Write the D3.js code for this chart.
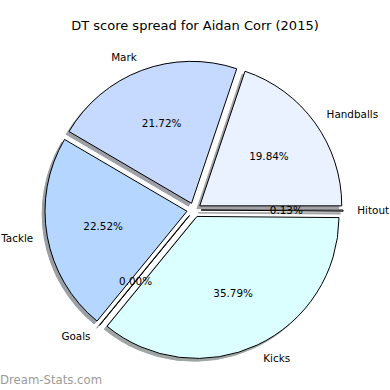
<!DOCTYPE html>
<html>
<head>
<meta charset="utf-8">
<script src="https://cdn.jsdelivr.net/npm/d3@7"></script>
<style>
  html, body { margin: 0; padding: 0; background: #fff; }
  svg { display: block; }
  text { font-family: "DejaVu Sans", sans-serif; }
</style>
</head>
<body>
<svg id="chart" width="390" height="390"></svg>
<script>
const title = "DT score spread for Aidan Corr (2015)";
const categories = ["Handballs", "Mark", "Tackle", "Goals", "Kicks", "Hitout"];
const values = [19.84, 21.72, 22.52, 0.00, 35.79, 0.13];
const colors = ["#eaf1ff", "#c6d9ff", "#b5d7ff", "#b5d7ff", "#dbffff", "#eaf1ff"];
const watermark = "Dream-Stats.com";

const W = 390, H = 390;
const cx = 194, cy = 210, R = 142;
const explode = 0.05, labelDist = 1.1, pctDist = 0.6, shadowOff = 0.02;

const svg = d3.select("#chart");
const data = categories.map((c, i) => ({ label: c, value: values[i], color: colors[i] }));

// counter-clockwise from 3 o'clock (matplotlib default)
const pie = d3.pie().sort(null).value(d => d.value)
  .startAngle(Math.PI / 2).endAngle(Math.PI / 2 - 2 * Math.PI);
const arcs = pie(data);
const arc = d3.arc().innerRadius(0).outerRadius(R);

arcs.forEach(a => {
  a.mid = (a.startAngle + a.endAngle) / 2;
  a.ux = Math.sin(a.mid);
  a.uy = -Math.cos(a.mid);
  a.ox = cx + explode * R * a.ux;
  a.oy = cy + explode * R * a.uy;
});

function darken(c) {
  const r = d3.rgb(c);
  return d3.rgb(r.r * 0.3, r.g * 0.3, r.b * 0.3).toString();
}

// shadows
svg.append("g").selectAll("path").data(arcs).join("path")
  .attr("transform", d => `translate(${d.ox - shadowOff * R},${d.oy + shadowOff * R})`)
  .attr("d", arc)
  .attr("fill", d => darken(d.data.color))
  .attr("stroke", d => darken(d.data.color))
  .attr("stroke-width", 1)
  .attr("opacity", 0.5);

// wedges
svg.append("g").selectAll("path").data(arcs).join("path")
  .attr("transform", d => `translate(${d.ox},${d.oy})`)
  .attr("d", arc)
  .attr("fill", d => d.data.color)
  .attr("stroke", "#000")
  .attr("stroke-width", 1)
  .attr("stroke-linejoin", "round");

// labels
svg.append("g").selectAll("text").data(arcs).join("text")
  .attr("x", d => d.ox + labelDist * R * d.ux)
  .attr("y", d => d.oy + labelDist * R * d.uy)
  .attr("dy", "0.35em")
  .attr("text-anchor", d => (d.ux < 0 ? "end" : "start"))
  .attr("font-size", "10.4px")
  .attr("fill", "#000")
  .text(d => d.data.label);

// percentages
svg.append("g").selectAll("text").data(arcs).join("text")
  .attr("x", d => d.ox + pctDist * R * d.ux)
  .attr("y", d => d.oy + pctDist * R * d.uy)
  .attr("dy", "0.35em")
  .attr("text-anchor", "middle")
  .attr("font-size", "10.4px")
  .attr("fill", "#000")
  .text(d => d.data.value.toFixed(2) + "%");

// title
svg.append("text")
  .attr("x", W / 2).attr("y", 29.5)
  .attr("text-anchor", "middle")
  .attr("font-size", "13px")
  .text(title);

// watermark
svg.append("text")
  .attr("x", 0).attr("y", 384)
  .attr("font-size", "11.7px")
  .attr("fill", "#9a9a9a")
  .text(watermark);
</script>
</body>
</html>
